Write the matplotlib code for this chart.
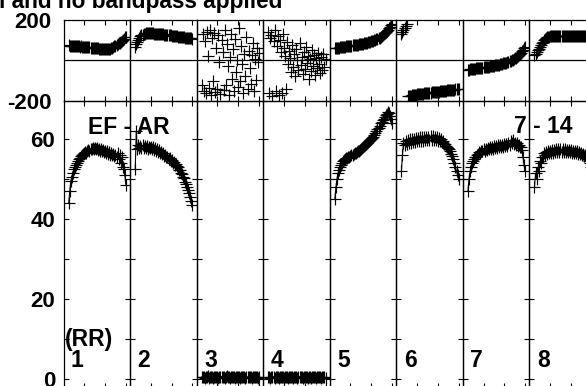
import matplotlib
matplotlib.use("Agg")
import matplotlib.pyplot as plt
import numpy as np

plt.rcParams['font.family'] = ['Liberation Sans', 'DejaVu Sans']
plt.rcParams['font.weight'] = 'bold'

# ---------------- data ----------------
first_channel = 5
panel_numbers = ['1', '2', '3', '4', '5', '6', '7', '8']

amp_1 = [44, 47, 49.5, 50.5, 51.5, 52.5, 53, 53.5, 54, 54.5,
         55, 55.3, 55.8, 56, 56.3, 56.5, 56.8, 56.6, 57, 57.3,
         57.2, 57.6, 57.5, 57.8, 57.6, 57.9, 57.5, 57.8, 57.3, 57.6,
         57.2, 57.5, 57, 57.3, 56.8, 57.1, 56.6, 57, 56.4, 56.8,
         56.2, 56.6, 56, 56.4, 55.8, 56.2, 55.5, 56.5, 55, 56,
         54, 55.5, 53, 52.5, 51, 48.5]
amp_2 = [52.5, 62, 57.5, 58.5, 57.8, 58.4, 57.9, 58.5, 57.8, 58.3,
         57.9, 58.4, 57.7, 58.2, 57.8, 58.1, 57.5, 58, 57.3, 57.8,
         57.2, 57.5, 56.9, 57.3, 56.6, 56.9, 56.3, 56.5, 55.9, 56.1,
         55.5, 55.7, 55.1, 55.3, 54.7, 54.8, 54.2, 54.4, 53.7, 53.8,
         53.2, 53.1, 52.4, 52.3, 51.6, 51.3, 50.6, 50.2, 49.4, 48.8,
         48.1, 47.3, 46.5, 45.5, 44.5, 43.5]
amp_3 = [0.4, 0.3, 0.5, 0.2, 0.4, 0.3, 0.6, 0.2, 0.3, 0.5,
         0.4, 0.2, 0.3, 0.4, 0.5, 0.3, 0.2, 0.4, 0.3, 0.5,
         0.3, 0.4, 0.2, 0.3, 0.6, 0.4, 0.3, 0.2, 0.4, 0.5,
         0.3, 0.4, 0.2, 0.3, 0.5, 0.4, 0.3, 0.2, 0.4, 0.3,
         0.5, 0.3, 0.2, 0.4, 0.3, 0.5, 0.4, 0.3, 0.2, 0.4,
         0.3, 0.5, 0.3, 0.4, 0.2, 0.3]
amp_4 = [0.3, 0.5, 0.2, 0.4, 0.3, 0.4, 0.2, 0.5, 0.3, 0.4,
         0.2, 0.3, 0.5, 0.3, 0.4, 0.2, 0.4, 0.3, 0.5, 0.2,
         0.4, 0.3, 0.3, 0.5, 0.2, 0.4, 0.3, 0.4, 0.2, 0.3,
         0.5, 0.3, 0.4, 0.2, 0.3, 0.4, 0.5, 0.3, 0.2, 0.4,
         0.3, 0.2, 0.5, 0.3, 0.4, 0.3, 0.2, 0.4, 0.5, 0.3,
         0.4, 0.2, 0.3, 0.4, 0.3, 0.2]
amp_5 = [45, 48, 50, 51.5, 52.3, 53, 53.6, 54, 54.6, 54.9,
         55.1, 55.3, 55.4, 55.6, 55.7, 55.9, 56, 56.2, 56.3, 56.5,
         56.6, 56.8, 57, 57.1, 57.3, 57.5, 57.8, 58, 58.3, 58.5,
         58.8, 59, 59.3, 59.6, 59.9, 60.1, 60.4, 60.7, 61.1, 61.6,
         62, 62.5, 62.9, 63.4, 64, 64.4, 64.8, 65.2, 65.6, 66,
         66.4, 66.8, 66.5, 65.8, 65, 64]
amp_6 = [52, 56, 59, 58.5, 59.5, 58.8, 59.8, 59, 60, 59.2,
         60.2, 59.3, 60.2, 59.4, 60.3, 59.5, 60.4, 59.6, 60.5, 59.6,
         60.5, 59.7, 60.6, 59.8, 60.7, 59.8, 60.7, 59.8, 60.8, 59.9,
         60.8, 59.9, 60.6, 59.8, 60.5, 59.7, 60.3, 59.6, 60, 59.3,
         59.6, 58.9, 58.9, 58.3, 58.1, 57.8, 57.5, 57, 56.4, 55.8,
         55, 54, 53, 52, 51, 50]
amp_7 = [47, 50, 52, 53, 54, 54.6, 55, 55.5, 55.7, 56.2,
         56.3, 56.8, 56.7, 57.2, 57, 57.5, 57.2, 57.7, 57.4, 57.9,
         57.5, 58, 57.6, 58.2, 57.7, 58.3, 57.8, 58.4, 57.9, 58.5,
         58, 58.6, 58.1, 58.7, 58.2, 58.8, 58.3, 58.9, 58.4, 59.2,
         58.6, 59.5, 59, 59.8, 58.8, 59.2, 58.6, 59, 58.4, 58.6,
         58.2, 58, 57.3, 55.5, 53.5, 52]
amp_8 = [48, 51.5, 50, 53, 52, 54.5, 54, 55.5, 55.5, 56.5,
         56, 56.8, 56.3, 57, 56.5, 57.2, 56.6, 57.3, 56.7, 57.4,
         56.8, 57.5, 56.8, 57.5, 56.9, 57.5, 56.9, 57.5, 56.9, 57.5,
         56.9, 57.4, 56.8, 57.4, 56.8, 57.3, 56.7, 57.2, 56.6, 57.1,
         56.5, 57, 56.4, 56.9, 56.3, 56.7, 56.1, 56.4, 55.8, 56,
         55.3, 55.3, 54.5, 54, 53, 52]

phase_1 = [74, 73, 73.5, 72, 73, 71.5, 72, 70.5, 71, 69.5,
           70, 68.5, 69, 67.5, 68, 66.5, 67, 65.5, 66, 64.5,
           65, 63.5, 63.5, 62, 62, 60.5, 60.5, 59, 59, 58,
           57.5, 57, 56.5, 56, 55.5, 55.5, 55, 55.5, 56, 57,
           58.5, 60.5, 63, 66, 69, 72.5, 76, 80, 84, 88,
           92, 97, 102, 108, 114, 118]
phase_2 = [68, 80, 92, 103, 112, 119, 124, 128, 131, 133,
           134.5, 135, 135.5, 135.5, 135, 134.5, 134, 133.5, 133, 132.5,
           132, 131.5, 131, 130.5, 130, 129.5, 129, 128.5, 128, 127,
           126.5, 125.5, 125, 124, 123.5, 122.5, 122, 121, 120.5, 119.5,
           119, 118, 117.5, 116.5, 116, 115, 114.5, 113.5, 113, 112,
           111.5, 110.5, 110, 109, 108.5, 108]
phase_3 = [-120, 130, -150, 95, -160, 140, 20, -135, 150, -170,
           110, -100, 135, -155, 60, -140, 125, -10, -165, 100,
           40, -145, 150, -120, 80, -30, -170, 15, 130, -90,
           55, -150, 105, -60, 0, -130, 160, -100, 70, -20,
           -160, 30, -80, 115, -140, 45, -40, -115, 25, 85,
           -150, 5, -95, 60, -10, 35]
phase_4 = [140, -160, 110, 125, -175, 95, 150, -150, 70, 120,
           -170, 100, 40, -160, 130, 60, 20, -140, 90, -20,
           45, 10, -60, 75, -35, 30, -80, 55, 0, -50,
           85, -25, 15, -70, 40, -45, 65, -15, 20, -90,
           5, -55, 50, -30, 25, -75, 10, -40, 35, -20,
           -65, 15, -50, 30, -35, 5]
phase_5 = [60, 61, 62, 62.5, 63.5, 64, 65, 65.5, 66.5, 67,
           68, 69, 70, 70.5, 71.5, 72.5, 73, 74, 75, 76,
           77, 77.5, 78.5, 79.5, 80.5, 81.5, 82.5, 83.5, 84.5, 85.5,
           87, 88, 89.5, 91, 92.5, 94, 95.5, 97.5, 99.5, 101.5,
           103.5, 106, 109, 112, 115.5, 119.5, 124, 129, 134, 139.5,
           145, 151, 158, 165, 173, 181]
phase_6 = [132, 142, 152, 161, 170, 178, -178, -177, -176, -175,
           -174, -173, -172, -171, -170, -169, -168, -167, -166.5, -166,
           -165, -164.5, -164, -163, -162.5, -162, -161, -160.5, -160, -159,
           -158.5, -158, -157, -156.5, -156, -155, -154.5, -154, -153, -152.5,
           -152, -151, -150.5, -150, -149, -148.5, -148, -147, -146.5, -146,
           -145, -144.5, -144, -143, -142, -141]
phase_7 = [-47, -46, -45, -44, -43.5, -42.5, -42, -41, -40, -39.5,
           -38.5, -38, -37, -36, -35.5, -34.5, -34, -33, -32, -31.5,
           -30.5, -30, -29, -28, -27, -26, -25, -24, -23, -22,
           -21, -20, -18.5, -17, -15.5, -14, -12.5, -11, -9, -7,
           -5, -2.5, 0, 3, 6, 9.5, 13, 17, 21.5, 26.5,
           32, 38, 45, 52, 60, 68]
phase_8 = [25, 32, 40, 49, 58, 67, 76, 85, 93, 100,
           106, 110.5, 114, 116.5, 118, 119, 120, 120.5, 121, 121,
           121.5, 121.5, 121.5, 121.5, 121.5, 121.5, 121, 121, 121, 121,
           120.5, 120.5, 120.5, 120.5, 120, 120, 120, 120, 119.5, 119.5,
           119.5, 119.5, 119, 119, 119, 119, 118.5, 118.5, 118.5, 118.5,
           118, 118, 118, 118, 117.5, 117.5]

amps = [amp_1, amp_2, amp_3, amp_4, amp_5, amp_6, amp_7, amp_8]
phases = [phase_1, phase_2, phase_3, phase_4, phase_5, phase_6, phase_7, phase_8]

amp_ticks = [0, 10, 20, 30, 40, 50, 60]
amp_tick_labels = ['0', '', '20', '', '40', '', '60']
phase_ticks = [-200, 200]
phase_tick_labels = ['-200', '200']
channel_ticks = [20, 40, 60]

title_text = 'l and no bandpass applied'
baseline_left = 'EF - AR'
baseline_right = '7 - 14'
pol_label = '(RR)'

# ---------------- layout (pixel based) ----------------
W, H = 586, 386
fig = plt.figure(figsize=(W / 100, H / 100), dpi=100)

def fx(px):
    return px / W

def fy(py):
    return 1 - py / H

left0 = 63.5
pw = 66.54
y_top, y_mid, y_bot = 20.0, 100.7, 388.0
amp_lim = (-2.38, 69.71)
phase_lim = (-200, 200)
chan_lim = (0, 64)

spine_lw = 0.9
tick_kw = dict(direction='in', width=0.8, length=3.8, color='black')
mk = dict(marker='+', ms=8.2, mew=0.85, color='black')

for i in range(8):
    lpx = left0 + i * pw
    axp = fig.add_axes([fx(lpx), fy(y_mid), pw / W, (y_mid - y_top) / H])
    axa = fig.add_axes([fx(lpx), fy(y_bot), pw / W, (y_bot - y_mid) / H])

    ch = np.arange(first_channel, first_channel + len(phases[i]))
    axp.plot(ch, phases[i], linestyle='none', **mk)
    axp.axhline(0, color='black', lw=0.9)
    axp.set_xlim(*chan_lim)
    axp.set_ylim(*phase_lim)

    cha = np.arange(first_channel, first_channel + len(amps[i]))
    axa.plot(cha, amps[i], linestyle='-', lw=0.8, **mk)
    axa.set_xlim(*chan_lim)
    axa.set_ylim(*amp_lim)

    for ax in (axp, axa):
        for s in ax.spines.values():
            s.set_linewidth(spine_lw)
            s.set_color('black')
        ax.set_xticks(channel_ticks)
        ax.tick_params(axis='x', top=True, bottom=True, labelbottom=False,
                       **tick_kw)
        ax.patch.set_alpha(0)

    axa.set_yticks(amp_ticks)
    axa.tick_params(axis='y', left=True, right=True, pad=6,
                    labelsize=16, **tick_kw)
    if i == 0:
        axa.set_yticklabels(amp_tick_labels, fontweight='bold')
        axp.set_yticks(phase_ticks)
        axp.set_yticklabels(phase_tick_labels, fontweight='bold')
        axp.tick_params(axis='y', length=0, pad=8.5, labelsize=16)
    else:
        axa.set_yticklabels([])
        axp.set_yticks([])

    fig.text(fx(lpx + 7.5), fy(366.7), panel_numbers[i], ha='left',
             va='baseline', fontsize=16.5, fontweight='bold')

fig.text(fx(65), fy(346), pol_label, ha='left', va='baseline',
         fontsize=16.5, fontweight='bold')
fig.text(fx(129), fy(134), baseline_left, ha='center', va='baseline',
         fontsize=16.5, fontweight='bold')
fig.text(fx(543.3), fy(133.3), baseline_right, ha='center', va='baseline',
         fontsize=16.5, fontweight='bold')
fig.text(fx(-1), fy(8.3), title_text, ha='left', va='baseline',
         fontsize=16.3, fontweight='bold')

fig.savefig('out.png', dpi=100)
